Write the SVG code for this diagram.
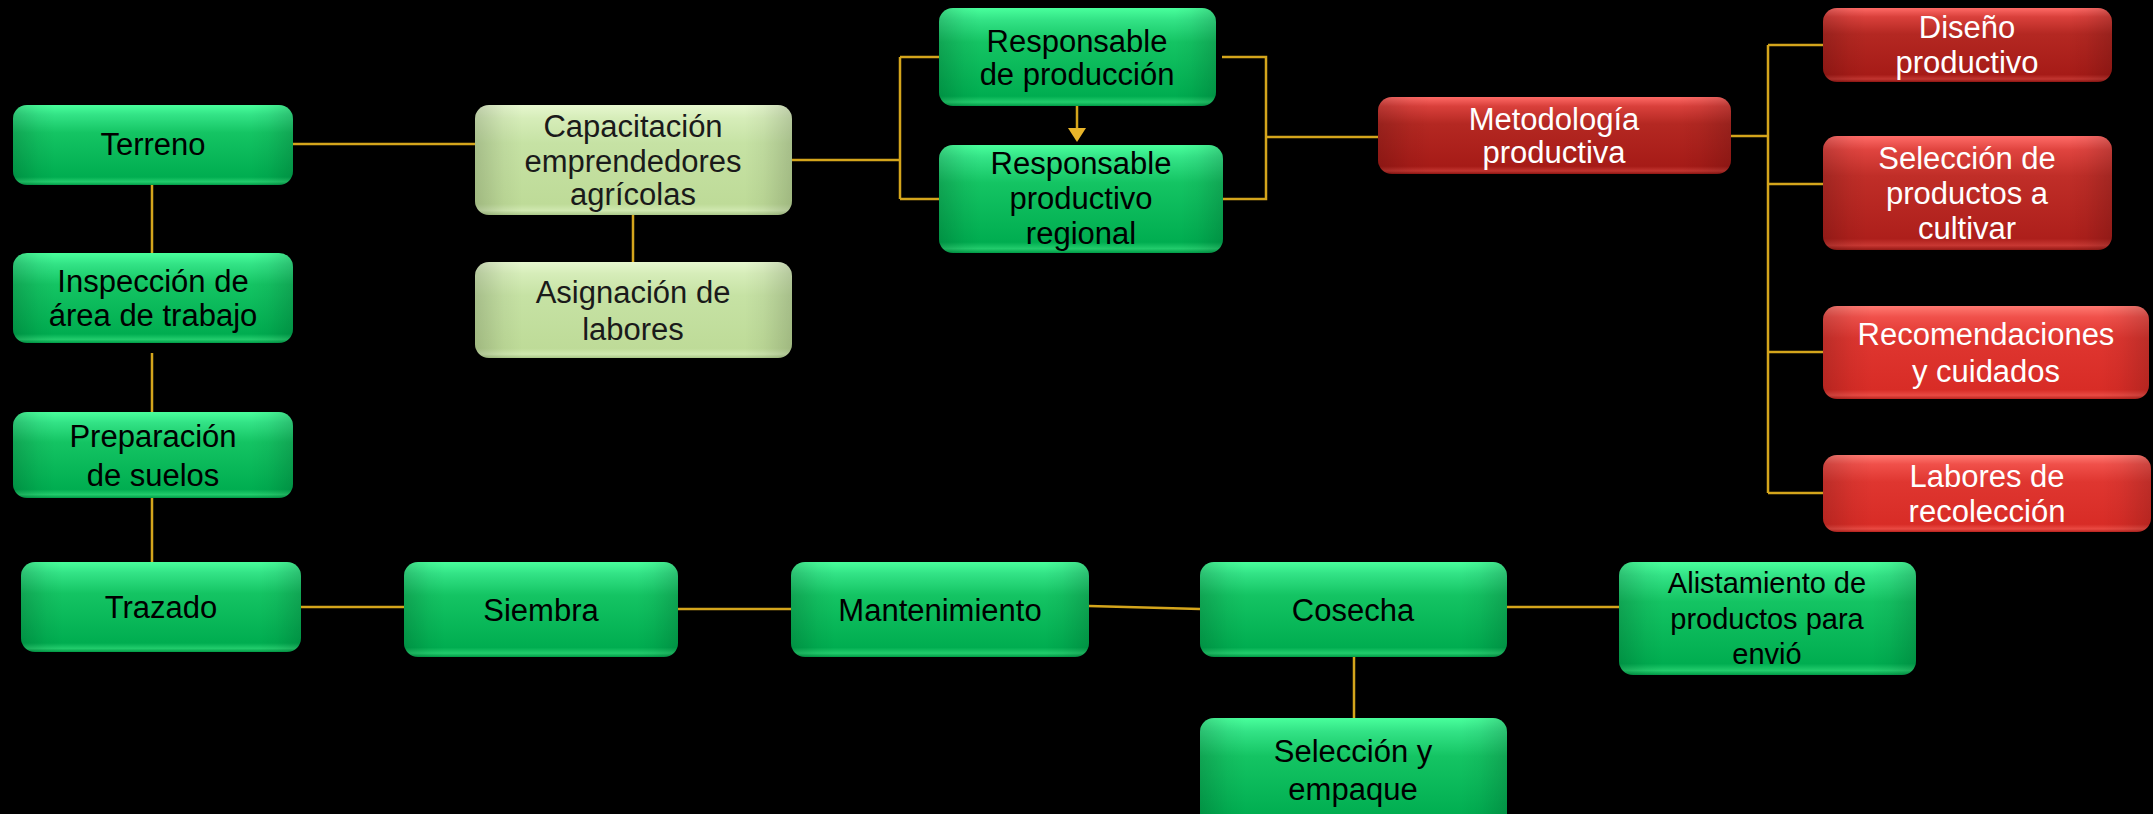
<svg xmlns="http://www.w3.org/2000/svg" width="2153" height="814" viewBox="0 0 2153 814">
<defs>
<linearGradient id="gGreen" x1="0" y1="0" x2="0" y2="1">
<stop offset="0" stop-color="#49ff9c"/>
<stop offset="0.12" stop-color="#33e386"/>
<stop offset="0.35" stop-color="#14c463"/>
<stop offset="0.9" stop-color="#00ad50"/>
<stop offset="0.96" stop-color="#22cc6c"/>
<stop offset="1" stop-color="#009a46"/>
</linearGradient>
<linearGradient id="gLight" x1="0" y1="0" x2="0" y2="1">
<stop offset="0" stop-color="#e6f7cf"/>
<stop offset="0.12" stop-color="#d6edb9"/>
<stop offset="0.35" stop-color="#c6e2a4"/>
<stop offset="0.9" stop-color="#bedb98"/>
<stop offset="0.96" stop-color="#d0e8b0"/>
<stop offset="1" stop-color="#a9c787"/>
</linearGradient>
<linearGradient id="gRedDark" x1="0" y1="0" x2="0" y2="1">
<stop offset="0" stop-color="#ff6a66"/>
<stop offset="0.12" stop-color="#d9403b"/>
<stop offset="0.35" stop-color="#b42822"/>
<stop offset="0.9" stop-color="#a61b17"/>
<stop offset="0.96" stop-color="#c23530"/>
<stop offset="1" stop-color="#8d1512"/>
</linearGradient>
<linearGradient id="gRedMid" x1="0" y1="0" x2="0" y2="1">
<stop offset="0" stop-color="#ff6c68"/>
<stop offset="0.12" stop-color="#e0443f"/>
<stop offset="0.35" stop-color="#c02e28"/>
<stop offset="0.9" stop-color="#ad1f1b"/>
<stop offset="0.96" stop-color="#c83833"/>
<stop offset="1" stop-color="#931814"/>
</linearGradient>
<linearGradient id="gRedBright" x1="0" y1="0" x2="0" y2="1">
<stop offset="0" stop-color="#ff7a72"/>
<stop offset="0.12" stop-color="#f0504a"/>
<stop offset="0.35" stop-color="#df3630"/>
<stop offset="0.9" stop-color="#d82c26"/>
<stop offset="0.96" stop-color="#ea4a43"/>
<stop offset="1" stop-color="#b8231e"/>
</linearGradient>
<linearGradient id="gSide" x1="0" y1="0" x2="1" y2="0">
<stop offset="0" stop-color="#000" stop-opacity="0.16"/>
<stop offset="0.09" stop-color="#000" stop-opacity="0.04"/>
<stop offset="0.15" stop-color="#000" stop-opacity="0"/>
<stop offset="0.85" stop-color="#000" stop-opacity="0"/>
<stop offset="0.91" stop-color="#000" stop-opacity="0.04"/>
<stop offset="1" stop-color="#000" stop-opacity="0.16"/>
</linearGradient>
</defs>
<style>
.g{fill:url(#gGreen)}
.l{fill:url(#gLight)}
.rd{fill:url(#gRedDark)}
.rm{fill:url(#gRedMid)}
.rb{fill:url(#gRedBright)}
.s{fill:url(#gSide)}
text{font-family:"Liberation Sans",Arial,sans-serif;font-size:31px;text-anchor:middle}
.n{font-size:29px}
.tk{fill:#000}
.tl{fill:#1a1a1a}
.tw{fill:#fff}
.c{fill:none;stroke:#d4a51c;stroke-width:2.5}
</style>
<rect width="2153" height="814" fill="#000"/>
<g id="connectors">
<path class="c" d="M293 144H475"/>
<path class="c" d="M152 185V253"/>
<path class="c" d="M152 353V412"/>
<path class="c" d="M152 498V562"/>
<path class="c" d="M633 215V262"/>
<path class="c" d="M792 160H900M900 57V199M900 57H939M900 199H939"/>
<path class="c" d="M1077 106V129"/>
<polygon points="1068,128 1086,128 1077,142" fill="#e8b52a"/>
<path class="c" d="M1222 57H1266V199H1223M1266 137H1378"/>
<path class="c" d="M1731 136H1768M1768 45V493M1768 45H1823M1768 184H1823M1768 352H1823M1768 493H1823"/>
<path class="c" d="M301 607H404M678 609H791M1089 606L1200 609M1507 607H1619M1354 657V718"/>
</g>
<g id="terreno"><rect class="g" x="13" y="105" width="280" height="80" rx="14"/><rect class="s" x="13" y="105" width="280" height="80" rx="14"/><text class="tk" x="153" y="155">Terreno</text></g>
<g id="inspeccion"><rect class="g" x="13" y="253" width="280" height="90" rx="14"/><rect class="s" x="13" y="253" width="280" height="90" rx="14"/><text class="tk" x="153" y="292">Inspección de</text><text class="tk" x="153" y="326">área de trabajo</text></g>
<g id="preparacion"><rect class="g" x="13" y="412" width="280" height="86" rx="14"/><rect class="s" x="13" y="412" width="280" height="86" rx="14"/><text class="tk" x="153" y="447">Preparación</text><text class="tk" x="153" y="486">de suelos</text></g>
<g id="trazado"><rect class="g" x="21" y="562" width="280" height="90" rx="14"/><rect class="s" x="21" y="562" width="280" height="90" rx="14"/><text class="tk" x="161" y="618">Trazado</text></g>
<g id="siembra"><rect class="g" x="404" y="562" width="274" height="95" rx="14"/><rect class="s" x="404" y="562" width="274" height="95" rx="14"/><text class="tk" x="541" y="621">Siembra</text></g>
<g id="mantenimiento"><rect class="g" x="791" y="562" width="298" height="95" rx="14"/><rect class="s" x="791" y="562" width="298" height="95" rx="14"/><text class="tk" x="940" y="621">Mantenimiento</text></g>
<g id="cosecha"><rect class="g" x="1200" y="562" width="307" height="95" rx="14"/><rect class="s" x="1200" y="562" width="307" height="95" rx="14"/><text class="tk" x="1353" y="621">Cosecha</text></g>
<g id="seleccion-empaque"><rect class="g" x="1200" y="718" width="307" height="110" rx="14"/><rect class="s" x="1200" y="718" width="307" height="110" rx="14"/><text class="tk" x="1353" y="762">Selección y</text><text class="tk" x="1353" y="800">empaque</text></g>
<g id="alistamiento"><rect class="g" x="1619" y="562" width="297" height="113" rx="14"/><rect class="s" x="1619" y="562" width="297" height="113" rx="14"/><text class="tk n" x="1767" y="593">Alistamiento de</text><text class="tk n" x="1767" y="629">productos para</text><text class="tk n" x="1767" y="664">envió</text></g>
<g id="capacitacion"><rect class="l" x="475" y="105" width="317" height="110" rx="14"/><rect class="s" x="475" y="105" width="317" height="110" rx="14"/><text class="tl" x="633" y="137">Capacitación</text><text class="tl" x="633" y="172">emprendedores</text><text class="tl" x="633" y="205">agrícolas</text></g>
<g id="asignacion"><rect class="l" x="475" y="262" width="317" height="96" rx="14"/><rect class="s" x="475" y="262" width="317" height="96" rx="14"/><text class="tl" x="633" y="303">Asignación de</text><text class="tl" x="633" y="340">labores</text></g>
<g id="resp-produccion"><rect class="g" x="939" y="8" width="277" height="98" rx="14"/><rect class="s" x="939" y="8" width="277" height="98" rx="14"/><text class="tk" x="1077" y="52">Responsable</text><text class="tk" x="1077" y="85">de producción</text></g>
<g id="resp-regional"><rect class="g" x="939" y="145" width="284" height="108" rx="14"/><rect class="s" x="939" y="145" width="284" height="108" rx="14"/><text class="tk" x="1081" y="174">Responsable</text><text class="tk" x="1081" y="209">productivo</text><text class="tk" x="1081" y="244">regional</text></g>
<g id="metodologia"><rect class="rd" x="1378" y="97" width="353" height="77" rx="14"/><rect class="s" x="1378" y="97" width="353" height="77" rx="14"/><text class="tw" x="1554" y="130">Metodología</text><text class="tw" x="1554" y="163">productiva</text></g>
<g id="diseno"><rect class="rd" x="1823" y="8" width="289" height="74" rx="14"/><rect class="s" x="1823" y="8" width="289" height="74" rx="14"/><text class="tw" x="1967" y="38">Diseño</text><text class="tw" x="1967" y="73">productivo</text></g>
<g id="seleccion-productos"><rect class="rm" x="1823" y="136" width="289" height="114" rx="14"/><rect class="s" x="1823" y="136" width="289" height="114" rx="14"/><text class="tw" x="1967" y="169">Selección de</text><text class="tw" x="1967" y="204">productos a</text><text class="tw" x="1967" y="239">cultivar</text></g>
<g id="recomendaciones"><rect class="rb" x="1823" y="306" width="326" height="93" rx="14"/><rect class="s" x="1823" y="306" width="326" height="93" rx="14"/><text class="tw" x="1986" y="345">Recomendaciones</text><text class="tw" x="1986" y="382">y cuidados</text></g>
<g id="labores"><rect class="rb" x="1823" y="455" width="328" height="77" rx="14"/><rect class="s" x="1823" y="455" width="328" height="77" rx="14"/><text class="tw" x="1987" y="487">Labores de</text><text class="tw" x="1987" y="522">recolección</text></g>
</svg>
